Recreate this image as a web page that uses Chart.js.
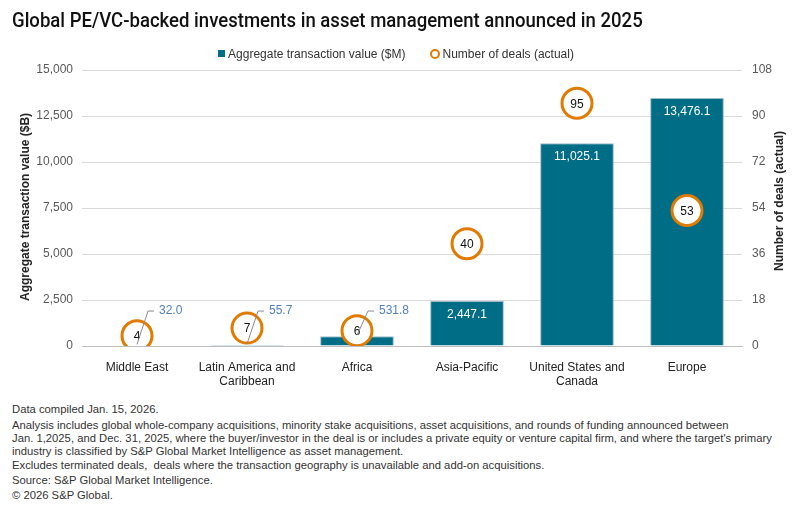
<!DOCTYPE html>
<html><head><meta charset="utf-8">
<script src="https://cdn.jsdelivr.net/npm/chart.js@4.4.1/dist/chart.umd.min.js"></script>
<style>
body{margin:0;width:800px;height:512px;background:#fff;overflow:hidden;position:relative;font-family:'Liberation Sans',Arial,sans-serif;color:#222}
#title{position:absolute;left:12px;top:8px;font-size:20.5px;font-family:Roboto,'Liberation Sans',sans-serif;font-weight:500;color:#111;white-space:nowrap;transform:scaleX(0.905);transform-origin:0 0}
#legend{position:absolute;top:46px;left:-4px;width:800px;text-align:center;font-size:12px;color:#333;white-space:nowrap}
#legend span.item{display:inline-block;margin:0 12px;vertical-align:middle}
#legend .sq{display:inline-block;width:7px;height:7px;background:#006D87;margin-right:3px;vertical-align:middle;position:relative;top:-1px}
#legend .ci{display:inline-block;width:6px;height:6px;border:2.5px solid #E07B00;border-radius:50%;margin-right:3px;vertical-align:middle;position:relative;top:-1px}
#wrap{position:absolute;left:0;top:0;width:800px;height:400px}
.ax{position:absolute;font-size:12px;font-weight:bold;color:#222;white-space:nowrap;transform:translate(-50%,-50%) rotate(-90deg);line-height:14px}
.fn{position:absolute;left:12px;font-size:11.28px;color:#333;white-space:nowrap;line-height:13px}
</style></head>
<body>
<div id="wrap"><canvas id="c" width="800" height="400"></canvas></div>
<div id="title">Global PE/VC-backed investments in asset management announced in 2025</div>
<div id="legend"><span class="item"><span class="sq"></span>Aggregate transaction value ($M)</span><span class="item"><span class="ci"></span>Number of deals (actual)</span></div>
<div class="ax" style="left:25px;top:207px">Aggregate transaction value ($B)</div>
<div class="ax" style="left:779px;top:201px">Number of deals (actual)</div>
<div class="fn" style="top:403px">Data compiled Jan. 15, 2026.</div>
<div class="fn" style="top:419px">Analysis includes global whole-company acquisitions, minority stake acquisitions, asset acquisitions, and rounds of funding announced between<br>Jan. 1,2025, and Dec. 31, 2025, where the buyer/investor in the deal is or includes a private equity or venture capital firm, and where the target's primary<br>industry is classified by S&amp;P Global Market Intelligence as asset management.</div>
<div class="fn" style="top:459px">Excludes terminated deals,&nbsp; deals where the transaction geography is unavailable and add-on acquisitions.</div>
<div class="fn" style="top:474px">Source: S&amp;P Global Market Intelligence.</div>
<div class="fn" style="top:489px">© 2026 S&amp;P Global.</div>
<script>
const categories = [["Middle East"], ["Latin America and", "Caribbean"], ["Africa"], ["Asia-Pacific"], ["United States and", "Canada"], ["Europe"]];
const transactionValues = [32.0, 55.7, 531.8, 2447.1, 11025.1, 13476.1];
const dealCounts = [4, 7, 6, 40, 95, 53];
const leftAxisMax = 15000, leftAxisStep = 2500;
const rightAxisMax = 108, rightAxisStep = 18;

const fmt = v => v.toLocaleString('en-US', {minimumFractionDigits: 1, maximumFractionDigits: 1});

const labelPlugin = {
  id: 'labels',
  afterDatasetsDraw(chart) {
    const ctx = chart.ctx;
    const yL = chart.scales.y;
    const barMeta = chart.getDatasetMeta(0);
    const dotMeta = chart.getDatasetMeta(1);
    ctx.save();
    ctx.font = '12px "Liberation Sans", Arial, sans-serif';
    dotMeta.data.forEach((pt, i) => {
      ctx.fillStyle = '#111';
      ctx.textAlign = 'center';
      ctx.textBaseline = 'middle';
      ctx.fillText(String(dealCounts[i]), pt.x, pt.y + 1);
    });
    barMeta.data.forEach((bar, i) => {
      const v = transactionValues[i];
      if (v > 2000) {
        ctx.fillStyle = '#fff';
        ctx.textAlign = 'center';
        ctx.textBaseline = 'middle';
        ctx.fillText(fmt(v), bar.x, bar.y + 14);
      } else {
        const ly = yL.getPixelForValue(1900);
        ctx.strokeStyle = '#8c8c8c';
        ctx.lineWidth = 1;
        ctx.beginPath();
        ctx.moveTo(bar.x, bar.y - 1);
        ctx.lineTo(bar.x + 11, ly);
        ctx.lineTo(bar.x + 17, ly);
        ctx.stroke();
        ctx.fillStyle = '#4F7FC0';
        ctx.textAlign = 'left';
        ctx.textBaseline = 'middle';
        ctx.fillText(fmt(v), bar.x + 22, ly);
      }
    });
    ctx.restore();
  }
};

new Chart(document.getElementById('c'), {
  data: {
    labels: categories,
    datasets: [
      {type: 'bar', label: 'Aggregate transaction value ($M)', data: transactionValues, yAxisID: 'y',
       backgroundColor: '#006D87', borderColor: '#9fbccb', borderWidth: 1, categoryPercentage: 1, barPercentage: 0.67, order: 2},
      {type: 'line', label: 'Number of deals (actual)', data: dealCounts, yAxisID: 'y1', showLine: false,
       pointRadius: 15, pointHoverRadius: 15, pointBorderWidth: 3, pointBackgroundColor: '#fff', pointBorderColor: '#E07B00', borderColor: '#E07B00', order: 1}
    ]
  },
  options: {
    responsive: false, animation: false,
    layout: {padding: {top: 70, left: 0, right: 0, bottom: 0}},
    plugins: {legend: {display: false}, tooltip: {enabled: false}},
    scales: {
      x: {
        grid: {display: false},
        border: {color: '#bfbfbf'},
        ticks: {color: '#222', font: {size: 12, family: '"Liberation Sans", Arial, sans-serif'}, padding: 6, maxRotation: 0, autoSkip: false},
        afterFit(s) { s.height = 54; }
      },
      y: {
        position: 'left', min: 0, max: leftAxisMax,
        ticks: {stepSize: leftAxisStep, color: '#595959', padding: 9, font: {size: 12, family: '"Liberation Sans", Arial, sans-serif'},
                callback: v => v.toLocaleString('en-US')},
        grid: {color: '#d9d9d9', drawTicks: false},
        border: {display: false},
        afterFit(s) { s.width = 82; }
      },
      y1: {
        position: 'right', min: 0, max: rightAxisMax,
        ticks: {stepSize: rightAxisStep, color: '#595959', padding: 10, font: {size: 12, family: '"Liberation Sans", Arial, sans-serif'}},
        grid: {display: false, drawTicks: false},
        border: {display: false},
        afterFit(s) { s.width = 58; }
      }
    }
  },
  plugins: [labelPlugin]
});
</script>
</body></html>
